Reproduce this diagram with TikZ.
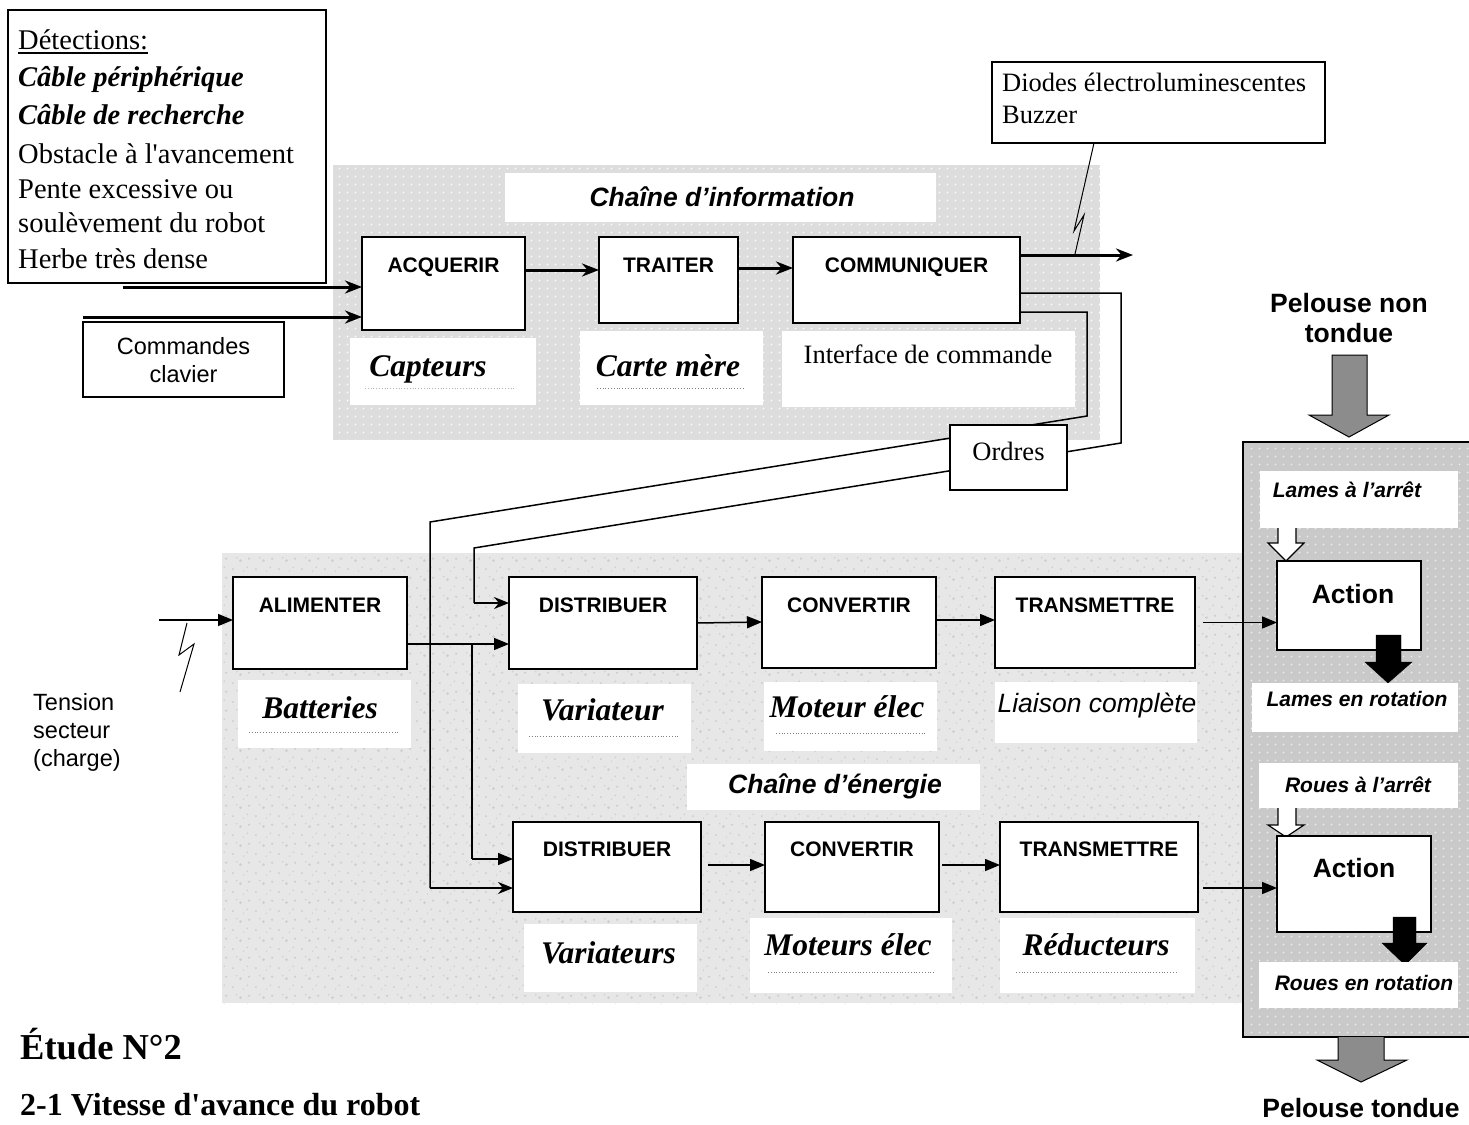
\documentclass[tikz,border=0pt]{standalone}
\usepackage{fontspec}
\setmainfont{Liberation Serif}
\setsansfont{Liberation Sans}
\usetikzlibrary{arrows.meta,patterns}
\pgfdeclarepatternformonly{wdots}{\pgfqpoint{0pt}{0pt}}{\pgfqpoint{8pt}{8pt}}{\pgfqpoint{8pt}{8pt}}{\pgfpathcircle{\pgfqpoint{4pt}{4pt}}{1pt}\pgfusepath{fill}}
\pgfdeclarepatternformonly{granite}{\pgfqpoint{0pt}{0pt}}{\pgfqpoint{23pt}{19pt}}{\pgfqpoint{23pt}{19pt}}{%
\pgfpathcircle{\pgfqpoint{3pt}{4pt}}{1.2pt}%
\pgfpathcircle{\pgfqpoint{11pt}{13pt}}{1.5pt}%
\pgfpathcircle{\pgfqpoint{18pt}{6pt}}{1pt}%
\pgfpathcircle{\pgfqpoint{7pt}{16pt}}{0.9pt}%
\pgfpathcircle{\pgfqpoint{20pt}{15pt}}{1.3pt}%
\pgfpathcircle{\pgfqpoint{14pt}{2pt}}{0.8pt}%
\pgfusepath{fill}}
\newcommand{\fbx}[6]{\node[#6, minimum width={#4-#2}, minimum height={#5-#3}] (#1) at ({(#2+#4)/2},{(#3+#5)/2}) {};}
\begin{document}
\begin{tikzpicture}[x=1pt,y=-1pt,
  fbox/.style={draw, line width=2pt, fill=white, inner sep=0pt, outer sep=0pt},
  wbox/.style={fill=white, inner sep=0pt, outer sep=0pt},
  thinbox/.style={draw, line width=1.3pt, fill=white, inner sep=0pt, outer sep=0pt},
  txt/.style={inner sep=0pt, anchor=base},
  fn/.style={txt, font=\fontsize{21}{25}\selectfont\sffamily\bfseries},
  lbl/.style={txt, font=\fontsize{31.5}{36}\selectfont\bfseries\itshape},
  ser/.style={txt, font=\fontsize{26.5}{31}\selectfont},
  det/.style={txt, anchor=base west, font=\fontsize{28.5}{34}\selectfont},
  sans/.style={txt, font=\fontsize{23.5}{28}\selectfont\sffamily},
  ttl/.style={txt, font=\fontsize{26.5}{31}\selectfont\sffamily\bfseries\itshape},
  rlbl/.style={txt, font=\fontsize{21}{25}\selectfont\sffamily\bfseries\itshape},
  big/.style={txt, font=\fontsize{26.5}{31}\selectfont\sffamily\bfseries},
  iarr/.style={line width=3pt, -{Stealth[length=17pt,width=13pt]}},
  oarr/.style={line width=1.5pt, -{Stealth[length=15pt,width=12pt]}},
  earr/.style={line width=1.5pt, -{Triangle[length=15pt,width=12pt]}},
  dline/.style={gray, dotted, line width=0.8pt},
]
\useasboundingbox (0,0) rectangle (1469,1124);
% ---------- backgrounds ----------
\fill[gray!27] (333,165) rectangle (1100,440);
\fill[pattern=wdots, pattern color=white] (333,165) rectangle (1100,440);
\fill[gray!19] (222,553) rectangle (1245,1003);
\fill[pattern=granite, pattern color=gray!38] (222,553) rectangle (1245,1003);
\fill[gray!42] (1243,442) rectangle (1469,1037);
\fill[pattern=wdots, pattern color=white!85!gray] (1243,442) rectangle (1469,1037);
\draw[line width=2.5pt] (1469,442) -- (1243,442) -- (1243,1037) -- (1469,1037);
% ---------- top-left detection box ----------
\fbx{detb}{8}{10}{326}{283}{thinbox}
\node[det] (d1) at (18,50) {Détections:};
\draw[line width=1.2pt] ([yshift=-3pt]d1.base west) -- ([yshift=-3pt]d1.base east);
\node[det, font=\fontsize{28.5}{34}\selectfont\bfseries\itshape] (d2) at (18,86) {Câble périphérique};
\node[det, font=\fontsize{28.5}{34}\selectfont\bfseries\itshape] (d3) at (18,124) {Câble de recherche};
\node[det] (d4) at (18,163) {Obstacle à l\textquotesingle avancement};
\node[det] (d5) at (18,198) {Pente excessive ou};
\node[det] (d6) at (18,232) {soulèvement du robot};
\node[det] (d7) at (18,268) {Herbe très dense};
% commandes clavier
\fbx{cmd}{83}{322}{284}{397}{thinbox}
\node[sans] (cmd1) at (183.5,354.5) {Commandes};
\node[sans] (cmd2) at (183.5,382.5) {clavier};
% ---------- information chain ----------
\fbx{tinf}{505}{173}{936}{222}{wbox}
\node[ttl] (tinft) at (722,206) {Chaîne d’information};
\fbx{acq}{362}{237}{525}{330}{fbox}
\fbx{tra}{599}{237}{738}{323}{fbox}
\fbx{comm}{793}{237}{1020}{323}{fbox}
\node[fn] (acqt) at (443.5,272.5) {ACQUERIR};
\node[fn] (trat) at (668.5,272.5) {TRAITER};
\node[fn] (commt) at (906.5,272.5) {COMMUNIQUER};
\fbx{capb}{350}{338}{536}{405}{wbox}
\fbx{carb}{580}{331}{763}{405}{wbox}
\fbx{intb}{782}{331}{1075}{407}{wbox}
\node[lbl] (capt) at (428,376) {Capteurs};
\node[lbl] (cart) at (668,376) {Carte mère};
\node[ser] (intt) at (928,363) {Interface de commande};
\draw[dline, gray!60] (365,388) -- (515,388);
\draw[dline] (597,388) -- (745,388);
\draw[iarr] ([xshift=115pt,yshift=-4pt]detb.south west) -- ([yshift=-3.5pt]acq.west);
\draw[iarr] ([yshift=5pt]cmd.north west) -- ([yshift=-33.5pt]acq.west);
\draw[iarr] ([yshift=13.5pt]acq.east) -- ([yshift=10pt]tra.west);
\draw[iarr] ([yshift=12pt]tra.east) -- ([yshift=12pt]comm.west);
\coordinate (outc) at (1133,255);
\draw[iarr] ([yshift=25pt]comm.east) -- (outc);
% diodes
\fbx{diod}{992}{62}{1325}{143}{thinbox}
\node[ser, anchor=base west] (diod1) at (1002,92) {Diodes électroluminescentes};
\node[ser, anchor=base west] (diod2) at (1002,123) {Buzzer};
\draw[line width=1pt] ([xshift=-64.5pt]diod.south) -- (1074,231) -- (1084,215) -- (1075,254);
% boxes of the energy chain
\fbx{ali}{233}{577}{407}{669}{fbox}
\fbx{dis1}{509}{577}{697}{669}{fbox}
\fbx{conv1}{762}{577}{936}{668}{fbox}
\fbx{tr1}{995}{577}{1195}{668}{fbox}
\fbx{dis2}{513}{822}{701}{912}{fbox}
\fbx{conv2}{765}{822}{939}{912}{fbox}
\fbx{tr2}{1000}{822}{1198}{912}{fbox}
% ordres lines
\draw[line width=1.5pt] ([yshift=-13pt]comm.east) -- (1121,293) -- (1121,443) -- (474,548) -- (474,603);
\draw[oarr] (474,603) -- ([yshift=20pt]dis1.west);
\draw[line width=1.5pt] ([yshift=-32pt]comm.east) -- (1087,312) -- (1087,416) -- (430,522) -- (430,888);
\draw[oarr] (430,888) -- ([yshift=-21pt]dis2.west);
\fbx{ord}{950}{425}{1067}{490}{thinbox}
\node[ser] (ordt) at (1008.5,460) {Ordres};
% ---------- energy chain ----------
\node[fn] (alit) at (320,612.5) {ALIMENTER};
\node[fn] (dis1t) at (603,612.5) {DISTRIBUER};
\node[fn] (conv1t) at (849,612.5) {CONVERTIR};
\node[fn] (tr1t) at (1095,612.5) {TRANSMETTRE};
\node[fn] (dis2t) at (607,856.5) {DISTRIBUER};
\node[fn] (conv2t) at (852,856.5) {CONVERTIR};
\node[fn] (tr2t) at (1099,856.5) {TRANSMETTRE};
% labels
\fbx{batb}{238}{680}{411}{748}{wbox}
\fbx{var1b}{518}{684}{691}{753}{wbox}
\fbx{motb}{764}{682}{937}{751}{wbox}
\fbx{liab}{995}{682}{1197}{743}{wbox}
\fbx{tenb}{687}{764}{980}{810}{wbox}
\fbx{var2b}{524}{924}{697}{992}{wbox}
\fbx{mot2b}{750}{918}{952}{993}{wbox}
\fbx{redb}{1000}{918}{1195}{993}{wbox}
\node[lbl] (batt) at (320,718) {Batteries};
\node[lbl] (var1t) at (602.5,720) {Variateur};
\node[lbl] (mott) at (847,717) {Moteur élec};
\node[txt, font=\fontsize{26.5}{31}\selectfont\sffamily\itshape] (liat) at (1097,712) {Liaison complète};
\node[ttl] (tent) at (835,793) {Chaîne d’énergie};
\node[lbl] (var2t) at (608.5,963) {Variateurs};
\node[lbl] (mot2t) at (848,955) {Moteurs élec};
\node[lbl] (redt) at (1096,955) {Réducteurs};
\draw[dline] (249,732) -- (398,732);
\draw[dline] (529,736) -- (679,736);
\draw[dline] (776,733) -- (925,733);
\draw[dline] (768,972) -- (934,972);
\draw[dline] (1016,972) -- (1178,972);
% power
\coordinate (tin) at (159,620);
\draw[earr] (tin) -- ([yshift=3pt]ali.west);
\draw[line width=1pt] (187,623) -- (179,655) -- (194,644) -- (180,692);
\node[sans, anchor=base west] (ten1) at (33,710) {Tension};
\node[sans, anchor=base west] (ten2) at (33,738) {secteur};
\node[sans, anchor=base west] (ten3) at (33,766) {(charge)};
\draw[earr] ([yshift=-21pt]ali.east) -- ([yshift=-21pt]dis1.west);
\draw[line width=1.5pt] (472,644) -- (472,859);
\draw[earr] (472,859) -- ([yshift=8pt]dis2.west);
\draw[earr] (dis1.east) -- ([yshift=0.5pt]conv1.west);
\draw[earr] ([yshift=2.5pt]conv1.east) -- ([yshift=2.5pt]tr1.west);
\draw[earr] ([xshift=7pt,yshift=2pt]dis2.east) -- ([yshift=2pt]conv2.west);
\draw[earr] ([xshift=3pt,yshift=2pt]conv2.east) -- ([yshift=2pt]tr2.west);
% ---------- right column ----------
\node[big] (pnt1) at (1349,312) {Pelouse non};
\node[big] (pnt2) at (1349,342) {tondue};
\draw[fill=black!45, line width=1pt] (1332,355) -- (1367,355) -- (1367,415) -- (1389,415) -- (1349,437) -- (1309,415) -- (1332,415) -- cycle;
\fbx{lab}{1260}{471}{1458}{528}{wbox}
\node[rlbl] (lat) at (1347,497) {Lames à l’arrêt};
\draw[fill=white, line width=1.2pt] (1278,528) -- (1278,543) -- (1268,543) -- (1286,561) -- (1304,543) -- (1296,543) -- (1296,528);
\fbx{act1}{1277}{561}{1421}{650}{fbox}
\node[big] (act1t) at (1353,603) {Action};
\draw[fill=black] (1376,635) -- (1401,635) -- (1401,662) -- (1412,662) -- (1388,683) -- (1365,662) -- (1376,662) -- cycle;
\fbx{lrb}{1252}{683}{1458}{732}{wbox}
\node[rlbl] (lrt) at (1357,706) {Lames en rotation};
\fbx{rab}{1259}{763}{1458}{808}{wbox}
\node[rlbl] (rat) at (1358,792) {Roues à l’arrêt};
\draw[fill=white, line width=1.2pt] (1278,808) -- (1278,825) -- (1268,825) -- (1286,837) -- (1304,825) -- (1296,825) -- (1296,808);
\fbx{act2}{1277}{836}{1431}{932}{fbox}
\node[big] (act2t) at (1354,877) {Action};
\draw[fill=black] (1393,917) -- (1416,917) -- (1416,943) -- (1427,943) -- (1405,965) -- (1382,943) -- (1393,943) -- cycle;
\fbx{rrb}{1259}{962}{1458}{1008}{wbox}
\node[rlbl] (rrt) at (1364,990) {Roues en rotation};
\draw[fill=black!45, line width=1pt] (1338,1037) -- (1338,1060) -- (1317,1060) -- (1361,1082) -- (1407,1060) -- (1384,1060) -- (1384,1037);
\node[big] (ptt) at (1361,1117) {Pelouse tondue};
\draw[earr] ([xshift=8pt]tr1.east) -- (tr1.east -| act1.west);
\draw[earr] ([xshift=5pt,yshift=-21pt]tr2.east) -- ([yshift=-4pt]act2.west);
% ---------- titles ----------
\node[txt, anchor=base west, font=\fontsize{36.5}{41}\selectfont\bfseries] (etude) at (20,1059) {Étude N°2};
\node[txt, anchor=base west, font=\fontsize{32}{37}\selectfont\bfseries] (vit) at (20,1115) {2-1 Vitesse d\textquotesingle avance du robot};
\end{tikzpicture}
\end{document}
